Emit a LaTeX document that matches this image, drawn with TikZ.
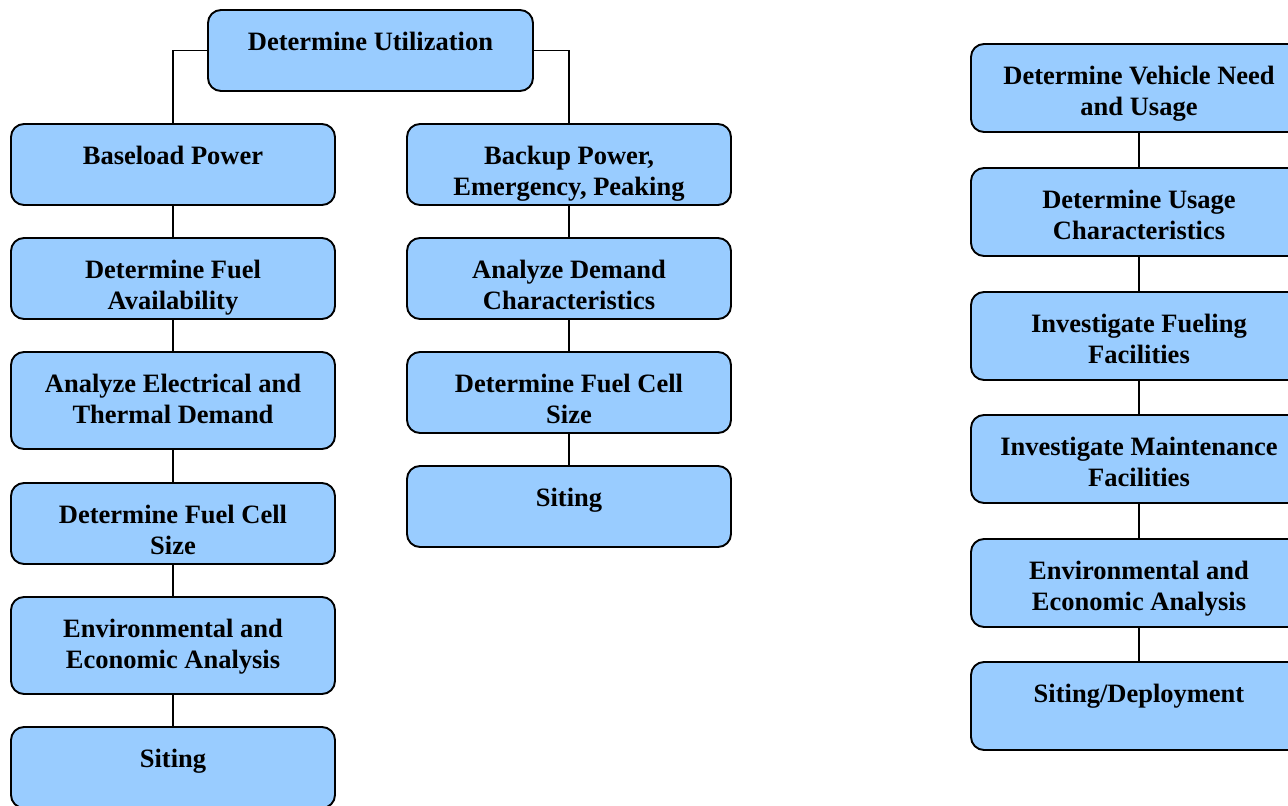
\documentclass[tikz,border=0pt]{standalone}
\usepackage{fontspec}
\setmainfont{Liberation Serif}
\definecolor{boxblue}{RGB}{153,204,255}
\newcommand\bt[3]{\parbox[c][#1][t]{#2}{\centering\fontsize{26.5}{31}\selectfont\bfseries\rule{0pt}{40pt}#3\par}}
\tikzset{
  box/.style={draw=black, line width=1.9pt, fill=boxblue, rounded corners=13pt, inner sep=0pt, outer sep=0pt},
  link/.style={draw=black, line width=1.8pt}
}
\begin{document}
\begin{tikzpicture}[x=1pt,y=-1pt]
\useasboundingbox (0,0) rectangle (1288,806);
\clip (0,0) rectangle (1288,806);
% top
\node[box] (top) at (370.5,50.5) {\bt{81pt}{325pt}{Determine Utilization}};
% left column
\node[box] (l1) at (173,164.5) {\bt{81pt}{324pt}{Baseload Power}};
\node[box] (l2) at (173,278.5) {\bt{81pt}{324pt}{Determine Fuel\\Availability}};
\node[box] (l3) at (173,400.5) {\bt{97pt}{324pt}{Analyze Electrical and\\Thermal Demand}};
\node[box] (l4) at (173,523.5) {\bt{81pt}{324pt}{Determine Fuel Cell\\Size}};
\node[box] (l5) at (173,645.5) {\bt{97pt}{324pt}{Environmental and\\Economic Analysis}};
\node[box] (l6) at (173,767.5) {\bt{81pt}{324pt}{Siting}};
% middle column
\node[box] (m1) at (569,164.5) {\bt{81pt}{324pt}{Backup Power,\\Emergency, Peaking}};
\node[box] (m2) at (569,278.5) {\bt{81pt}{324pt}{Analyze Demand\\Characteristics}};
\node[box] (m3) at (569,392.5) {\bt{81pt}{324pt}{Determine Fuel Cell\\Size}};
\node[box] (m4) at (569,506.5) {\bt{81pt}{324pt}{Siting}};
% right column
\node[box] (r1) at (1139,88) {\bt{88pt}{336pt}{Determine Vehicle Need\\and Usage}};
\node[box] (r2) at (1139,212) {\bt{88pt}{336pt}{Determine Usage\\Characteristics}};
\node[box] (r3) at (1139,336) {\bt{88pt}{336pt}{Investigate Fueling\\Facilities}};
\node[box] (r4) at (1139,459) {\bt{88pt}{336pt}{Investigate Maintenance\\Facilities}};
\node[box] (r5) at (1139,583) {\bt{88pt}{336pt}{Environmental and\\Economic Analysis}};
\node[box] (r6) at (1139,706) {\bt{88pt}{336pt}{Siting/Deployment}};
% connectors
\draw[link] (top.west) -| (l1.north);
\draw[link] (top.east) -| (m1.north);
\draw[link] (l1.south) -- (l2.north);
\draw[link] (l2.south) -- (l3.north);
\draw[link] (l3.south) -- (l4.north);
\draw[link] (l4.south) -- (l5.north);
\draw[link] (l5.south) -- (l6.north);
\draw[link] (m1.south) -- (m2.north);
\draw[link] (m2.south) -- (m3.north);
\draw[link] (m3.south) -- (m4.north);
\draw[link] (r1.south) -- (r2.north);
\draw[link] (r2.south) -- (r3.north);
\draw[link] (r3.south) -- (r4.north);
\draw[link] (r4.south) -- (r5.north);
\draw[link] (r5.south) -- (r6.north);
\end{tikzpicture}
\end{document}
